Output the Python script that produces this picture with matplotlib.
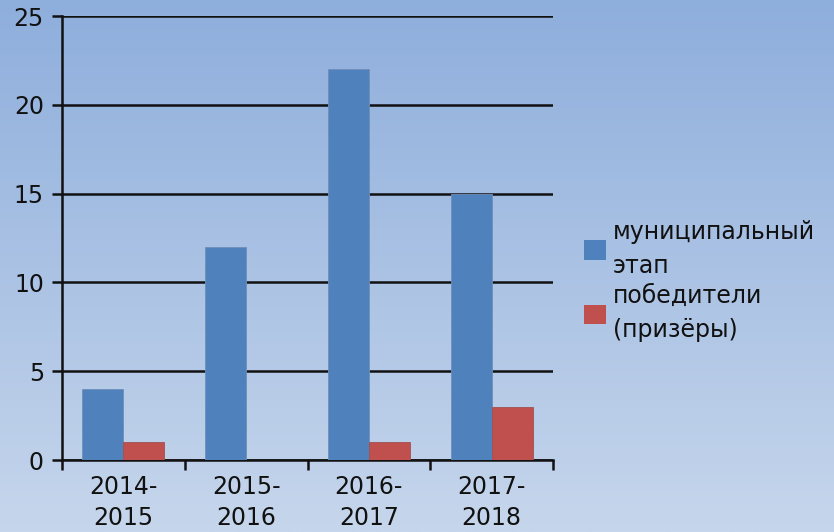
import numpy as np
import matplotlib.pyplot as plt
from matplotlib.patches import Patch

years = ['2014-\n2015', '2015-\n2016', '2016-\n2017', '2017-\n2018']
municipal = [4, 12, 22, 15]
winners = [1, 0, 1, 3]
series_names = ['муниципальный\nэтап', 'победители\n(призёры)']
colors = ['#4F81BD', '#C0504D']

plt.rcParams['font.family'] = ['DejaVu Sans']
plt.rcParams['text.color'] = '#111111'

fig = plt.figure(figsize=(8.34, 5.32), dpi=100)

# gradient background
bg = fig.add_axes([0, 0, 1, 1], zorder=-10)
grad = np.linspace(0, 1, 256).reshape(-1, 1)
top = np.array([0x8E, 0xAE, 0xDC]) / 255
bot = np.array([0xC6, 0xD6, 0xEC]) / 255
img = top + (bot - top) * grad[..., None]
bg.imshow(img, aspect='auto', extent=[0, 1, 0, 1])
bg.axis('off')

ax = fig.add_axes([62 / 834, 1 - 460 / 532, (553 - 62) / 834, (460 - 16) / 532])
ax.patch.set_alpha(0)

x = np.arange(len(years))
w = 0.335
ax.bar(x - w / 2, municipal, w, color=colors[0], edgecolor='#6F8FB8', linewidth=0.6, zorder=3)
ax.bar(x + w / 2, winners, w, color=colors[1], edgecolor='#A05050', linewidth=0.6, zorder=3)

ax.set_xlim(-0.5, 3.5)
ax.set_ylim(0, 25)
ax.set_yticks(range(0, 26, 5))
ax.yaxis.grid(True, color='#111111', linewidth=1.8)
ax.set_axisbelow(True)

for s in ['top', 'right']:
    ax.spines[s].set_visible(False)
for s in ['left', 'bottom']:
    ax.spines[s].set_color('#111111')
    ax.spines[s].set_linewidth(1.8)

ax.set_xticks(np.arange(-0.5, 4, 1))
ax.set_xticklabels([])
ax.set_xticks(x, minor=True)
ax.set_xticklabels(years, minor=True, fontsize=17, linespacing=1.35)
ax.tick_params(axis='x', which='major', length=7, width=1.8, color='#111111', direction='out')
ax.tick_params(axis='x', which='minor', length=0, pad=11, labelcolor='#111111')
ax.tick_params(axis='y', length=7, width=1.8, color='#111111', labelsize=17, pad=6,
               labelcolor='#111111')

handles = [Patch(facecolor=c) for c in colors]
leg = fig.legend(handles, series_names, loc='center left', bbox_to_anchor=(575 / 834, 1 - 281 / 532),
                 frameon=False, fontsize=17, handlelength=0.9, handleheight=0.9,
                 handletextpad=0.3, labelspacing=0.25, borderaxespad=0)
for t in leg.get_texts():
    t.set_linespacing(1.55)

fig.savefig('out.png', dpi=100)
